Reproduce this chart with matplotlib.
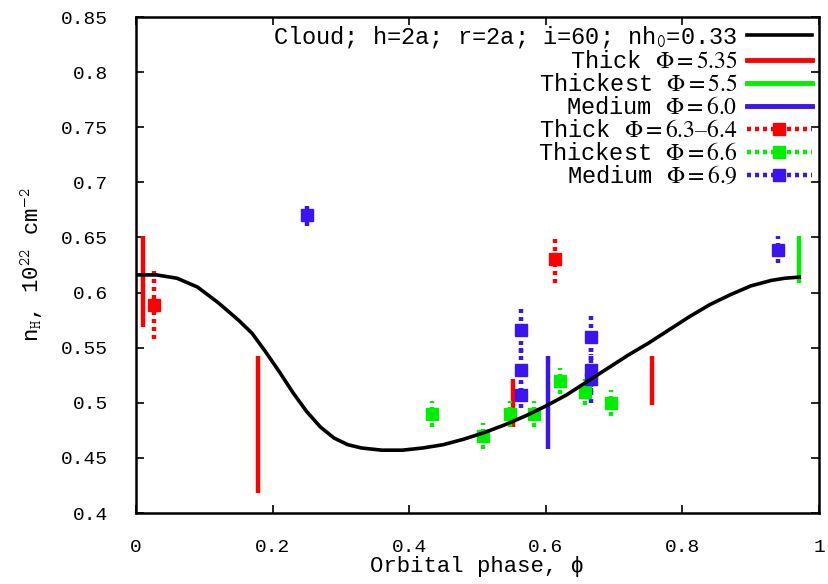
import matplotlib
matplotlib.use("Agg")
import matplotlib.pyplot as plt
from matplotlib.lines import Line2D

plt.rcParams['font.family'] = ['Liberation Mono', 'DejaVu Sans Mono', 'DejaVu Sans']
plt.rcParams['mathtext.fontset'] = 'stix'

# Model curve
model_phase = [0.00, 0.03, 0.06, 0.09, 0.12, 0.15, 0.17, 0.19, 0.21, 0.23, 0.25, 0.27,
               0.29, 0.31, 0.33, 0.36, 0.39, 0.42, 0.45, 0.48, 0.51, 0.54, 0.57, 0.60,
               0.63, 0.66, 0.69, 0.72, 0.75, 0.78, 0.81, 0.84, 0.87, 0.90, 0.93, 0.95, 0.971]
model_nh = [0.616, 0.616, 0.613, 0.605, 0.591, 0.575, 0.563, 0.546, 0.528, 0.509, 0.492, 0.478,
            0.468, 0.462, 0.459, 0.457, 0.457, 0.459, 0.462, 0.467, 0.473, 0.480, 0.488, 0.497,
            0.507, 0.519, 0.531, 0.543, 0.554, 0.566, 0.578, 0.589, 0.598, 0.606, 0.611, 0.613, 0.614]

# Observations
thick535_phase = [0.010, 0.179, 0.552, 0.756]
thick535_nh = [0.610, 0.480, 0.500, 0.520]
thick535_err = [0.041, 0.062, 0.022, 0.022]

thickest55_phase = [0.971]
thickest55_nh = [0.630]
thickest55_err = [0.021]

medium60_phase = [0.603]
medium60_nh = [0.500]
medium60_err = [0.042]

thick634_phase = [0.026, 0.613]
thick634_nh = [0.589, 0.630]
thick634_err = [0.031, 0.021]

thickest66_phase = [0.433, 0.508, 0.548, 0.583, 0.621, 0.658, 0.695]
thickest66_nh = [0.490, 0.470, 0.490, 0.490, 0.520, 0.510, 0.500]
thickest66_err = [0.012, 0.012, 0.012, 0.012, 0.012, 0.012, 0.012]

medium69_phase = [0.250, 0.563, 0.563, 0.563, 0.666, 0.666, 0.666, 0.940]
medium69_nh = [0.670, 0.566, 0.530, 0.507, 0.560, 0.530, 0.522, 0.639]
medium69_err = [0.010, 0.021, 0.020, 0.012, 0.021, 0.020, 0.022, 0.012]

labels = [r"Cloud; h=2a; r=2a; i=60; nh$_{\mathtt{0}}$=0.33",
          r"Thick $\Phi = 5.35$",
          r"Thickest $\Phi = 5.5$",
          r"Medium $\Phi = 6.0$",
          r"Thick $\Phi = 6.3\endash6.4$",
          r"Thickest $\Phi = 6.6$",
          r"Medium $\Phi = 6.9$"]

RED = '#ff0000'
GREEN = '#00ee00'
BLUE = '#3c14f0'
DOT = (0, (0.9, 0.9))

fig = plt.figure(figsize=(8.29, 5.84), dpi=100)
ax = fig.add_axes([136/829, 1 - 513/584, (819 - 136)/829, (513 - 17)/584])

ax.plot(model_phase, model_nh, color='black', lw=2.6, zorder=5)

def solid(x, y, e, c):
    ax.errorbar(x, y, yerr=e, fmt='none', ecolor=c, elinewidth=3.2, capsize=0, zorder=3)

def dotted(x, y, e, c):
    eb = ax.errorbar(x, y, yerr=e, fmt='s', color=c, ms=8, mec=c, ecolor=c,
                     elinewidth=3.2, capsize=0, zorder=4)
    for lc in eb[2]:
        lc.set_linestyle(DOT)

solid(thick535_phase, thick535_nh, thick535_err, RED)
solid(thickest55_phase, thickest55_nh, thickest55_err, GREEN)
solid(medium60_phase, medium60_nh, medium60_err, BLUE)
dotted(thick634_phase, thick634_nh, thick634_err, RED)
dotted(thickest66_phase, thickest66_nh, thickest66_err, GREEN)
dotted(medium69_phase, medium69_nh, medium69_err, BLUE)

ax.set_xlim(0, 1)
ax.set_ylim(0.4, 0.85)
ax.set_xticks([0, 0.2, 0.4, 0.6, 0.8, 1])
ax.set_xticklabels(['0', '0.2', '0.4', '0.6', '0.8', '1'])
ax.set_yticks([0.4, 0.45, 0.5, 0.55, 0.6, 0.65, 0.7, 0.75, 0.8, 0.85])
ax.set_yticklabels(['0.4', '0.45', '0.5', '0.55', '0.6', '0.65', '0.7', '0.75', '0.8', '0.85'])
ax.tick_params(direction='in', top=True, right=True, length=6, width=1.2, labelsize=14)
ax.tick_params(axis='y', pad=20)
ax.tick_params(axis='x', pad=19)
for s in ax.spines.values():
    s.set_linewidth(1.8)

ax.set_xlabel('Orbital phase, ϕ', fontsize=16, labelpad=0)
ax.set_ylabel(r"n$_{\mathtt{H}}$, 10$^{\mathtt{22}}$ cm$^{\mathtt{-2}}$", fontsize=16, labelpad=12)

handles = [
    Line2D([], [], color='black', lw=2.6),
    Line2D([], [], color=RED, lw=3.5),
    Line2D([], [], color=GREEN, lw=3.5),
    Line2D([], [], color=BLUE, lw=3.5),
    Line2D([], [], color=RED, lw=3.2, ls=DOT, marker='s', ms=8),
    Line2D([], [], color=GREEN, lw=3.2, ls=DOT, marker='s', ms=8),
    Line2D([], [], color=BLUE, lw=3.2, ls=DOT, marker='s', ms=8),
]
leg = ax.legend(handles, labels, loc='upper right', frameon=False, markerfirst=False,
                fontsize=17, handlelength=2.75, labelspacing=0.0, borderaxespad=0.1,
                borderpad=0.2, handletextpad=0.4, numpoints=1)

fig.savefig('out.png', dpi=100)
